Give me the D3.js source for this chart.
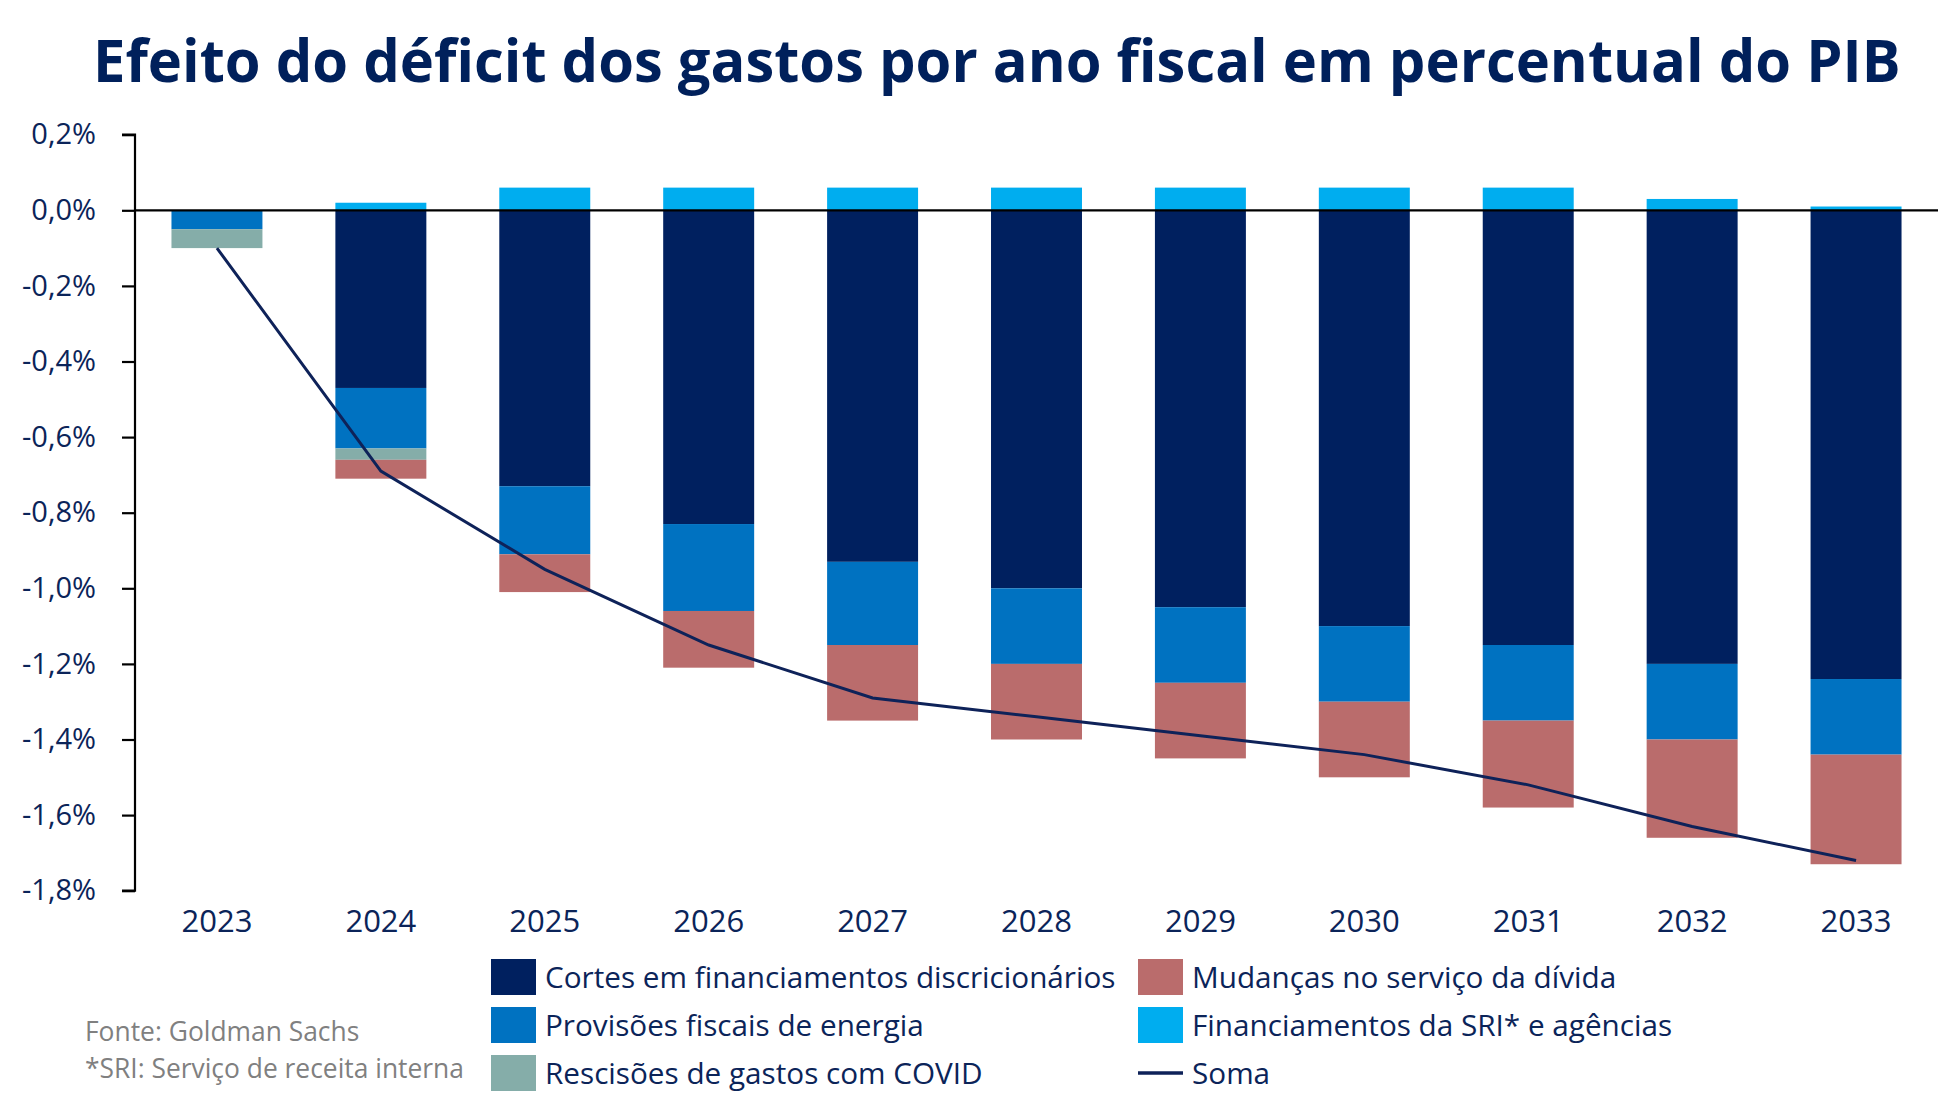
<!DOCTYPE html>
<html>
<head>
<meta charset="utf-8">
<script src="https://cdn.jsdelivr.net/npm/d3@7"></script>
<style>
  html, body { margin: 0; padding: 0; background: #ffffff; }
  svg { display: block; }
</style>
</head>
<body>
<svg id="chart" width="1951" height="1115"></svg>
<script>
const years = ["2023","2024","2025","2026","2027","2028","2029","2030","2031","2032","2033"];
const cortes    = [0, -0.47, -0.73, -0.83, -0.93, -1.00, -1.05, -1.10, -1.15, -1.20, -1.24];
const provisoes = [-0.05, -0.16, -0.18, -0.23, -0.22, -0.20, -0.20, -0.20, -0.20, -0.20, -0.20];
const covid     = [-0.05, -0.03, 0, 0, 0, 0, 0, 0, 0, 0, 0];
const mudancas  = [0, -0.05, -0.10, -0.15, -0.20, -0.20, -0.20, -0.20, -0.23, -0.26, -0.29];
const sri       = [0, 0.02, 0.06, 0.06, 0.06, 0.06, 0.06, 0.06, 0.06, 0.03, 0.01];
const soma      = [-0.10, -0.69, -0.95, -1.15, -1.29, -1.34, -1.39, -1.44, -1.52, -1.63, -1.72];
const yTicks = [0.2, 0, -0.2, -0.4, -0.6, -0.8, -1.0, -1.2, -1.4, -1.6, -1.8];

const seriesKeys = ["cortes","provisoes","covid","mudancas","sri"];
const seriesNames = {
  cortes: "Cortes em financiamentos discricionários",
  provisoes: "Provisões fiscais de energia",
  covid: "Rescisões de gastos com COVID",
  mudancas: "Mudanças no serviço da dívida",
  sri: "Financiamentos da SRI* e agências"
};
const colors = {
  cortes: "#00205F",
  provisoes: "#0072C1",
  covid: "#85ADA9",
  mudancas: "#BA6C6C",
  sri: "#00ADEF"
};
const lineColor = "#0E2259";
const textColor = "#0B2459";

const table = years.map((y, i) => ({
  year: y, cortes: cortes[i], provisoes: provisoes[i], covid: covid[i],
  mudancas: mudancas[i], sri: sri[i], soma: soma[i]
}));

const svg = d3.select("#chart");
const FONT = "'Open Sans', 'Noto Sans', sans-serif";

const x = d3.scaleBand().domain(years).range([135, 1938]).paddingInner(0.445).paddingOuter(0.2225);
const y = d3.scaleLinear().domain([-1.8, 0.2]).range([890.7, 134.7]);

// Title (horizontally condensed to match the narrow original typeface)
const titleG = svg.append("g");
const title = titleG.append("text")
  .attr("x", 0).attr("y", 0)
  .attr("font-family", FONT).attr("font-weight", 700).attr("font-size", 60)
  .attr("fill", "#00205B")
  .text("Efeito do déficit dos gastos por ano fiscal em percentual do PIB");
const natural = title.node().getComputedTextLength();
titleG.attr("transform", `translate(93,82) scale(${1808 / natural},1)`);

// Stacked bars
const stack = d3.stack().keys(seriesKeys).offset(d3.stackOffsetDiverging);
const stacked = stack(table);

svg.append("g").selectAll("g")
  .data(stacked).join("g")
  .attr("fill", d => colors[d.key])
  .selectAll("rect")
  .data(d => d).join("rect")
  .attr("x", d => x(d.data.year))
  .attr("width", x.bandwidth())
  .attr("y", d => y(Math.max(d[0], d[1])))
  .attr("height", d => Math.abs(y(d[0]) - y(d[1])));

// Y axis
const yAxis = d3.axisLeft(y).tickValues(yTicks).tickSize(13).tickPadding(26)
  .tickFormat(d => d3.format(".1f")(d).replace("−", "-").replace(".", ",") + "%");
const yg = svg.append("g").attr("transform", "translate(135,0)").call(yAxis);
yg.select(".domain").attr("stroke", "#000").attr("stroke-width", 2.2).attr("d", "M-13,134.7H0V890.7H-13");
yg.selectAll(".tick line").attr("stroke", "#000").attr("stroke-width", 2.2);
yg.selectAll(".tick text").attr("font-family", FONT).attr("font-size", 29).attr("fill", textColor);

// Zero line
svg.append("line")
  .attr("x1", 135).attr("x2", 1938)
  .attr("y1", y(0)).attr("y2", y(0))
  .attr("stroke", "#000").attr("stroke-width", 2.2);

// X axis labels
const xAxis = d3.axisBottom(x).tickSize(0).tickPadding(0);
const xg = svg.append("g").attr("transform", "translate(0,909)").call(xAxis);
xg.select(".domain").remove();
xg.selectAll(".tick text").attr("font-family", FONT).attr("font-size", 31).attr("fill", textColor).attr("dy", "0.75em");

// Soma line
const line = d3.line().x(d => x(d.year) + x.bandwidth() / 2).y(d => y(d.soma));
svg.append("path").datum(table)
  .attr("d", line).attr("fill", "none")
  .attr("stroke", lineColor).attr("stroke-width", 3);

// Legend
const legendItems = [
  { key: "cortes", col: 0, row: 0 },
  { key: "mudancas", col: 1, row: 0 },
  { key: "provisoes", col: 0, row: 1 },
  { key: "sri", col: 1, row: 1 },
  { key: "covid", col: 0, row: 2 },
  { key: "soma", col: 1, row: 2 }
];
const colX = [491, 1138];
const rowY = [977, 1025, 1073];
const lg = svg.append("g");
legendItems.forEach(it => {
  const gx = colX[it.col], gy = rowY[it.row];
  if (it.key === "soma") {
    lg.append("line").attr("x1", gx).attr("x2", gx + 45).attr("y1", gy).attr("y2", gy)
      .attr("stroke", lineColor).attr("stroke-width", 3.5);
  } else {
    lg.append("rect").attr("x", gx).attr("y", gy - 18).attr("width", 45).attr("height", 36)
      .attr("fill", colors[it.key]);
  }
  lg.append("text").attr("x", gx + 54).attr("y", gy).attr("dy", "0.36em")
    .attr("font-family", FONT).attr("font-size", 29.7).attr("fill", textColor)
    .text(it.key === "soma" ? "Soma" : seriesNames[it.key]);
});

// Footer
svg.append("text").attr("x", 85).attr("y", 1041)
  .attr("font-family", FONT).attr("font-size", 26.4).attr("fill", "#808080")
  .text("Fonte: Goldman Sachs");
svg.append("text").attr("x", 85).attr("y", 1078)
  .attr("font-family", FONT).attr("font-size", 26.4).attr("fill", "#808080")
  .text("*SRI: Serviço de receita interna");
</script>
</body>
</html>
